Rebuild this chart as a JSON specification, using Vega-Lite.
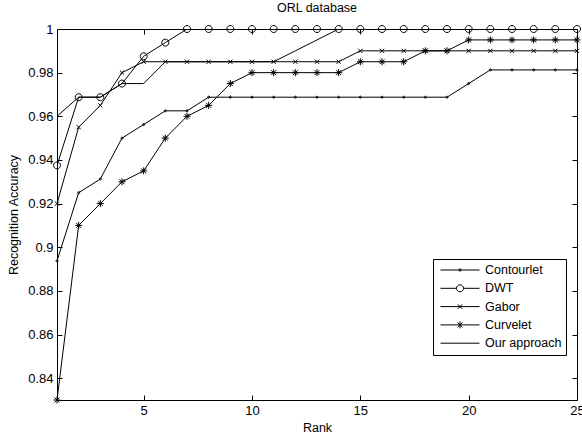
{
  "$schema": "https://vega.github.io/schema/vega-lite/v6.json",
  "autosize": "none",
  "padding": {"left": 57, "top": 29, "right": 5, "bottom": 35},
  "width": 520,
  "height": 371,
  "background": "white",
  "title": {"text": "ORL database", "fontSize": 12.5, "fontWeight": "normal", "font": "Liberation Sans", "color": "black", "offset": 9},
  "config": {
    "view": {"stroke": "black", "strokeWidth": 1},
    "font": "Liberation Sans",
    "axis": {"grid": false, "domainColor": "black", "tickColor": "black", "labelColor": "black", "titleColor": "black", "labelFont": "Liberation Sans", "titleFont": "Liberation Sans", "labelFontSize": 13, "titleFontSize": 12.5, "titleFontWeight": "normal", "tickSize": -5, "labelPadding": 9}
  },
  "datasets": {
    "acc": [
      {"series": "Contourlet", "rank": 1, "acc": 0.89375}, {"series": "Contourlet", "rank": 2, "acc": 0.925}, {"series": "Contourlet", "rank": 3, "acc": 0.93125}, {"series": "Contourlet", "rank": 4, "acc": 0.95}, {"series": "Contourlet", "rank": 5, "acc": 0.95625}, {"series": "Contourlet", "rank": 6, "acc": 0.9625}, {"series": "Contourlet", "rank": 7, "acc": 0.9625}, {"series": "Contourlet", "rank": 8, "acc": 0.96875}, {"series": "Contourlet", "rank": 9, "acc": 0.96875}, {"series": "Contourlet", "rank": 10, "acc": 0.96875}, {"series": "Contourlet", "rank": 11, "acc": 0.96875}, {"series": "Contourlet", "rank": 12, "acc": 0.96875}, {"series": "Contourlet", "rank": 13, "acc": 0.96875}, {"series": "Contourlet", "rank": 14, "acc": 0.96875}, {"series": "Contourlet", "rank": 15, "acc": 0.96875}, {"series": "Contourlet", "rank": 16, "acc": 0.96875}, {"series": "Contourlet", "rank": 17, "acc": 0.96875}, {"series": "Contourlet", "rank": 18, "acc": 0.96875}, {"series": "Contourlet", "rank": 19, "acc": 0.96875}, {"series": "Contourlet", "rank": 20, "acc": 0.975}, {"series": "Contourlet", "rank": 21, "acc": 0.98125}, {"series": "Contourlet", "rank": 22, "acc": 0.98125}, {"series": "Contourlet", "rank": 23, "acc": 0.98125}, {"series": "Contourlet", "rank": 24, "acc": 0.98125}, {"series": "Contourlet", "rank": 25, "acc": 0.98125},
      {"series": "DWT", "rank": 1, "acc": 0.9375}, {"series": "DWT", "rank": 2, "acc": 0.96875}, {"series": "DWT", "rank": 3, "acc": 0.96875}, {"series": "DWT", "rank": 4, "acc": 0.975}, {"series": "DWT", "rank": 5, "acc": 0.9875}, {"series": "DWT", "rank": 6, "acc": 0.99375}, {"series": "DWT", "rank": 7, "acc": 1}, {"series": "DWT", "rank": 8, "acc": 1}, {"series": "DWT", "rank": 9, "acc": 1}, {"series": "DWT", "rank": 10, "acc": 1}, {"series": "DWT", "rank": 11, "acc": 1}, {"series": "DWT", "rank": 12, "acc": 1}, {"series": "DWT", "rank": 13, "acc": 1}, {"series": "DWT", "rank": 14, "acc": 1}, {"series": "DWT", "rank": 15, "acc": 1}, {"series": "DWT", "rank": 16, "acc": 1}, {"series": "DWT", "rank": 17, "acc": 1}, {"series": "DWT", "rank": 18, "acc": 1}, {"series": "DWT", "rank": 19, "acc": 1}, {"series": "DWT", "rank": 20, "acc": 1}, {"series": "DWT", "rank": 21, "acc": 1}, {"series": "DWT", "rank": 22, "acc": 1}, {"series": "DWT", "rank": 23, "acc": 1}, {"series": "DWT", "rank": 24, "acc": 1}, {"series": "DWT", "rank": 25, "acc": 1},
      {"series": "Gabor", "rank": 1, "acc": 0.92}, {"series": "Gabor", "rank": 2, "acc": 0.955}, {"series": "Gabor", "rank": 3, "acc": 0.965}, {"series": "Gabor", "rank": 4, "acc": 0.98}, {"series": "Gabor", "rank": 5, "acc": 0.985}, {"series": "Gabor", "rank": 6, "acc": 0.985}, {"series": "Gabor", "rank": 7, "acc": 0.985}, {"series": "Gabor", "rank": 8, "acc": 0.985}, {"series": "Gabor", "rank": 9, "acc": 0.985}, {"series": "Gabor", "rank": 10, "acc": 0.985}, {"series": "Gabor", "rank": 11, "acc": 0.985}, {"series": "Gabor", "rank": 12, "acc": 0.985}, {"series": "Gabor", "rank": 13, "acc": 0.985}, {"series": "Gabor", "rank": 14, "acc": 0.985}, {"series": "Gabor", "rank": 15, "acc": 0.99}, {"series": "Gabor", "rank": 16, "acc": 0.99}, {"series": "Gabor", "rank": 17, "acc": 0.99}, {"series": "Gabor", "rank": 18, "acc": 0.99}, {"series": "Gabor", "rank": 19, "acc": 0.99}, {"series": "Gabor", "rank": 20, "acc": 0.99}, {"series": "Gabor", "rank": 21, "acc": 0.99}, {"series": "Gabor", "rank": 22, "acc": 0.99}, {"series": "Gabor", "rank": 23, "acc": 0.99}, {"series": "Gabor", "rank": 24, "acc": 0.99}, {"series": "Gabor", "rank": 25, "acc": 0.99},
      {"series": "Curvelet", "rank": 1, "acc": 0.83}, {"series": "Curvelet", "rank": 2, "acc": 0.91}, {"series": "Curvelet", "rank": 3, "acc": 0.92}, {"series": "Curvelet", "rank": 4, "acc": 0.93}, {"series": "Curvelet", "rank": 5, "acc": 0.935}, {"series": "Curvelet", "rank": 6, "acc": 0.95}, {"series": "Curvelet", "rank": 7, "acc": 0.96}, {"series": "Curvelet", "rank": 8, "acc": 0.965}, {"series": "Curvelet", "rank": 9, "acc": 0.975}, {"series": "Curvelet", "rank": 10, "acc": 0.98}, {"series": "Curvelet", "rank": 11, "acc": 0.98}, {"series": "Curvelet", "rank": 12, "acc": 0.98}, {"series": "Curvelet", "rank": 13, "acc": 0.98}, {"series": "Curvelet", "rank": 14, "acc": 0.98}, {"series": "Curvelet", "rank": 15, "acc": 0.985}, {"series": "Curvelet", "rank": 16, "acc": 0.985}, {"series": "Curvelet", "rank": 17, "acc": 0.985}, {"series": "Curvelet", "rank": 18, "acc": 0.99}, {"series": "Curvelet", "rank": 19, "acc": 0.99}, {"series": "Curvelet", "rank": 20, "acc": 0.995}, {"series": "Curvelet", "rank": 21, "acc": 0.995}, {"series": "Curvelet", "rank": 22, "acc": 0.995}, {"series": "Curvelet", "rank": 23, "acc": 0.995}, {"series": "Curvelet", "rank": 24, "acc": 0.995}, {"series": "Curvelet", "rank": 25, "acc": 0.995},
      {"series": "Our approach", "rank": 1, "acc": 0.96}, {"series": "Our approach", "rank": 2, "acc": 0.96875}, {"series": "Our approach", "rank": 3, "acc": 0.96875}, {"series": "Our approach", "rank": 4, "acc": 0.975}, {"series": "Our approach", "rank": 5, "acc": 0.975}, {"series": "Our approach", "rank": 6, "acc": 0.985}, {"series": "Our approach", "rank": 7, "acc": 0.985}, {"series": "Our approach", "rank": 8, "acc": 0.985}, {"series": "Our approach", "rank": 9, "acc": 0.985}, {"series": "Our approach", "rank": 10, "acc": 0.985}, {"series": "Our approach", "rank": 11, "acc": 0.985}, {"series": "Our approach", "rank": 12, "acc": 0.99}, {"series": "Our approach", "rank": 13, "acc": 0.995}, {"series": "Our approach", "rank": 14, "acc": 1}, {"series": "Our approach", "rank": 15, "acc": 1}, {"series": "Our approach", "rank": 16, "acc": 1}, {"series": "Our approach", "rank": 17, "acc": 1}, {"series": "Our approach", "rank": 18, "acc": 1}, {"series": "Our approach", "rank": 19, "acc": 1}, {"series": "Our approach", "rank": 20, "acc": 1}, {"series": "Our approach", "rank": 21, "acc": 1}, {"series": "Our approach", "rank": 22, "acc": 1}, {"series": "Our approach", "rank": 23, "acc": 1}, {"series": "Our approach", "rank": 24, "acc": 1}, {"series": "Our approach", "rank": 25, "acc": 1}
    ]
  },
  "data": {"name": "acc"},
  "resolve": {"scale": {"shape": "independent"}, "legend": {"shape": "independent"}, "axis": {"x": "independent", "y": "independent"}},
  "layer": [
    {
      "mark": {"type": "line", "color": "black", "strokeWidth": 1, "clip": true},
      "encoding": {
        "x": {"field": "rank", "type": "quantitative", "scale": {"domain": [1, 25], "nice": false, "zero": false}, "axis": {"title": "Rank", "values": [5, 10, 15, 20, 25], "titlePadding": 4, "labelFlush": false}},
        "y": {"field": "acc", "type": "quantitative", "scale": {"domain": [0.83, 1], "nice": false, "zero": false}, "axis": {"title": "Recognition Accuracy", "values": [0.84, 0.86, 0.88, 0.9, 0.92, 0.94, 0.96, 0.98, 1], "format": "~g", "titlePadding": 7}},
        "detail": {"field": "series"}
      }
    },
    {
      "mark": {"type": "point", "filled": false, "color": "black", "strokeWidth": 1, "size": 49, "opacity": 1, "clip": false},
      "encoding": {
        "x": {"field": "rank", "type": "quantitative", "axis": {"orient": "top", "values": [5, 10, 15, 20, 25], "labels": false, "title": null, "domain": false}},
        "y": {"field": "acc", "type": "quantitative", "axis": {"orient": "right", "values": [0.84, 0.86, 0.88, 0.9, 0.92, 0.94, 0.96, 0.98, 1], "labels": false, "title": null, "domain": false}},
        "shape": {"field": "series", "type": "nominal", "legend": null, "scale": {
          "domain": ["Contourlet", "DWT", "Gabor", "Curvelet", "Our approach"],
          "range": [
            "M-0.3,0A0.3,0.3,0,1,1,0.3,0A0.3,0.3,0,1,1,-0.3,0Z",
            "M-1,0A1,1,0,1,1,1,0A1,1,0,1,1,-1,0Z",
            "M-0.6,-0.6L0.6,0.6M-0.6,0.6L0.6,-0.6",
            "M-1,0L1,0M0,-1L0,1M-0.7,-0.7L0.7,0.7M-0.7,0.7L0.7,-0.7",
            "M0,0"
          ]}}
      }
    },
    {
      "transform": [{"filter": "datum.rank > 100"}],
      "mark": {"type": "point", "filled": false, "color": "black", "strokeWidth": 1, "size": 2025, "opacity": 1},
      "encoding": {
        "x": {"field": "rank", "type": "quantitative", "axis": null},
        "y": {"field": "acc", "type": "quantitative", "axis": null},
        "shape": {"field": "series", "type": "nominal",
          "scale": {
            "domain": ["Contourlet", "DWT", "Gabor", "Curvelet", "Our approach"],
            "range": [
              "M-0.867,0L0.867,0M-0.053,0A0.053,0.053,0,1,1,0.053,0A0.053,0.053,0,1,1,-0.053,0Z",
              "M-0.867,0L-0.156,0M0.156,0L0.867,0M-0.156,0A0.156,0.156,0,1,1,0.156,0A0.156,0.156,0,1,1,-0.156,0Z",
              "M-0.867,0L0.867,0M-0.1,-0.1L0.1,0.1M-0.1,0.1L0.1,-0.1",
              "M-0.867,0L0.867,0M0,-0.156L0,0.156M-0.11,-0.11L0.11,0.11M-0.11,0.11L0.11,-0.11",
              "M-0.867,0L0.867,0"
            ]},
          "legend": {"title": null, "orient": "none", "legendX": 376, "legendY": 230, "padding": 4, "clipHeight": 14, "rowPadding": 4.3, "labelOffset": 2, "labelFontSize": 12.5, "labelFont": "Liberation Sans", "labelColor": "black", "strokeColor": "black", "fillColor": "white", "symbolSize": 2025, "symbolStrokeColor": "black", "symbolStrokeWidth": 1, "symbolFillColor": "transparent", "symbolOpacity": 1, "cornerRadius": 0}
        }
      }
    }
  ]
}
